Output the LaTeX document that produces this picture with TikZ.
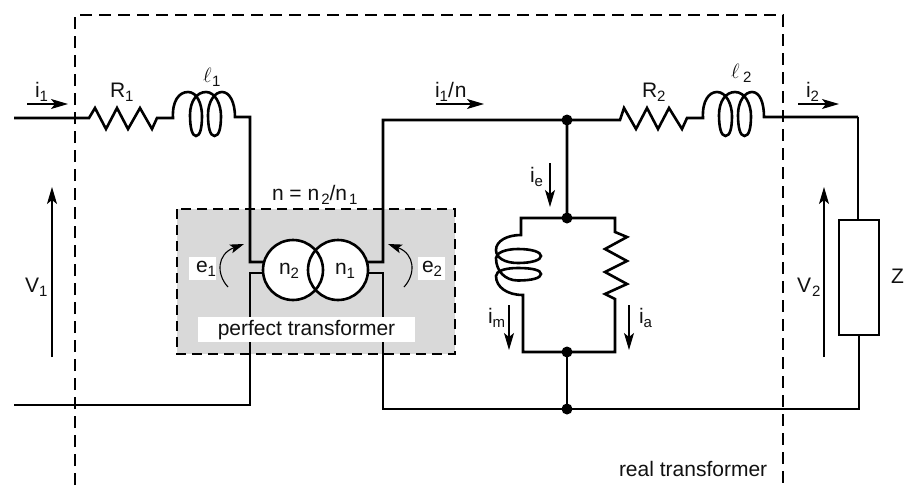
\documentclass[tikz,border=0pt]{standalone}
\usepackage{fontspec}
\setmainfont{Liberation Sans}
\usetikzlibrary{arrows.meta}
\newcommand{\lowsub}[1]{\raisebox{-4.5pt}{\fontsize{15}{16}\selectfont #1}}
\newcommand{\lsym}{\fontsize{21}{24}\selectfont$\ell$}
\definecolor{boxgray}{HTML}{D9D9D9}
\definecolor{inkc}{HTML}{111111}
\tikzset{
  wire/.style={line width=2.6pt,line join=miter,color=black},
  wirelow/.style={line width=2.85pt,line join=miter,color=black},
  realbox/.style={line width=1.2pt,dash pattern=on 12pt off 7pt},
  graybox/.style={line width=1.2pt,dash pattern=on 10pt off 6pt,fill=boxgray},
  curarrow/.style={line width=1.1pt,-{Stealth[length=17pt,width=10pt,inset=4pt]}},
  emfarrow/.style={line width=1.1pt,-{Stealth[length=14pt,width=9pt,inset=3pt]}},
  lbl/.style={anchor=base west,inner sep=0pt,outer sep=0pt,text=inkc,font=\fontsize{21}{24}\selectfont},
  dotj/.style={circle,fill=black,draw=none,minimum size=11pt,inner sep=0pt},
  xfmr/.style={circle,minimum size=60pt,inner sep=0pt,line width=2.6pt},
  whitebox/.style={fill=white,draw=none,inner sep=0pt,outer sep=0pt}
}
\begin{document}
\begin{tikzpicture}[x=1pt,y=-1pt]
\useasboundingbox (0,0) rectangle (908,485);
% frames
\draw[graybox] (177,209) rectangle (455,354);
\draw[realbox] (75,485) -- (75,15) -- (783,15) -- (783,485);
% named points
\coordinate (inA) at (14,118);
\coordinate (inB) at (14,405);
\coordinate (pL1) at (250,262);
\coordinate (pL2) at (250,273);
\coordinate (pR1) at (383,262);
\coordinate (pR2) at (383,273);
\node[dotj] (jTop) at (567,120) {};
\node[dotj] (jMid) at (567,218) {};
\node[dotj] (jLow) at (567,352) {};
\node[dotj] (jBot) at (567,409) {};
% left branch: R1, l1
\draw[wire] (inA) -- (89,118) -- (95,108) -- (106,129) -- (117,108) -- (128,129) -- (140,108) -- (152,129) -- (157,118) -- (173,118)
  .. controls (172,101) and (179,92) .. (188,92)
  .. controls (197,92) and (202,104) .. (202,116)
  .. controls (202,128) and (200,136) .. (196,136)
  .. controls (192,136) and (190,127) .. (190,115)
  .. controls (190,101) and (197,92) .. (206,92)
  .. controls (215,92) and (221,104) .. (221,116)
  .. controls (221,128) and (219,136) .. (214.5,136)
  .. controls (210,136) and (208,127) .. (208,115)
  .. controls (208,101) and (215,92) .. (222,92)
  .. controls (230,92) and (235,103) .. (235,117)
  -- (250,117) -- (pL1) -- (263,262);
\draw[wirelow] (263,273) -- (pL2) -- (250,405) -- (inB);
% right branch: top wire, R2, l2, Z
\draw[wire] (368,262) -- (pR1) -- (383,120) -- (jTop.center) -- (620,120) -- (624,108) -- (636,129) -- (647,108) -- (658,129) -- (669,108) -- (682,129) -- (687,118) -- (703,118)
  .. controls (702,101) and (709,92) .. (717,92)
  .. controls (726,92) and (732,104) .. (732,116)
  .. controls (732,128) and (730,136) .. (725.5,136)
  .. controls (721,136) and (719,127) .. (719,115)
  .. controls (719,101) and (726,92) .. (735,92)
  .. controls (745,92) and (751,104) .. (751,116)
  .. controls (751,128) and (749,136) .. (744.5,136)
  .. controls (740,136) and (738,127) .. (738,115)
  .. controls (738,101) and (745,92) .. (752,92)
  .. controls (760,92) and (764,103) .. (764,117)
  -- (858,117) coordinate (zTop);
\node[draw,wirelow,fill=white,minimum width=40pt,minimum height=115pt,inner sep=0pt] (zbox) at (859,277.5) {};
\draw[wirelow] (zTop) -- (zbox.north -| zTop);
\draw[wirelow] (zbox.south -| 859,0) -- (859,409) -- (jBot.center) -- (383,409) -- (pR2) -- (368,273);
% shunt branch
\draw[wire] (jTop.center) -- (jMid.center) -- (615,218) -- (615,232) -- (627,237) -- (605,249) -- (627,261) -- (605,272) -- (627,284) -- (605,294) -- (615,299) -- (615,352) -- (jLow.center) -- (523,352) -- (523,295)
  .. controls (507,295) and (496,287) .. (496,276)
  .. controls (496,271) and (505,268) .. (518,268)
  .. controls (532,268) and (541,270) .. (541,274)
  .. controls (541,278) and (532,280.5) .. (518,280.5)
  .. controls (505,280.5) and (496,271) .. (496,258)
  .. controls (496,253) and (505,249) .. (518,249)
  .. controls (532,249) and (541,252) .. (541,256)
  .. controls (541,260) and (532,263) .. (518,263)
  .. controls (505,263) and (496,258) .. (496,250)
  .. controls (496,241) and (507,235) .. (521,235)
  -- (521,218) -- (jMid.center);
\draw[wirelow] (jLow.center) -- (jBot.center);
% white label patches
\node[whitebox,minimum width=217pt,minimum height=25pt] (ptbox) at (306.5,329.5) {};
\node[whitebox,minimum width=27pt,minimum height=23pt] (e1box) at (202.5,268.5) {};
\node[whitebox,minimum width=27pt,minimum height=23pt] (e2box) at (431.5,268.5) {};
% ideal transformer
\node[xfmr,fill=white] (cL) at (293,270) {};
\node[xfmr,fill=white] (cR) at (338,270) {};
\node[xfmr,draw] (cLo) at (cL) {};
\node[xfmr,draw] (cRo) at (cR) {};
% current and voltage arrows
\coordinate (a1s) at (27,104); \coordinate (a1e) at (68,104);
\coordinate (a2s) at (436,104); \coordinate (a2e) at (484,104);
\coordinate (a3s) at (798,104); \coordinate (a3e) at (839,104);
\coordinate (a4s) at (550,163); \coordinate (a4e) at (550,207);
\coordinate (a5s) at (509,305); \coordinate (a5e) at (509,350);
\coordinate (a6s) at (629,305); \coordinate (a6e) at (629,350);
\coordinate (a7s) at (52,357); \coordinate (a7e) at (52,187);
\coordinate (a8s) at (824,357); \coordinate (a8e) at (824,187);
\coordinate (e1s) at (228,287); \coordinate (e1e) at (244,244);
\coordinate (e2s) at (404,287); \coordinate (e2e) at (388,244);
\foreach \p/\q in {a1s/a1e,a2s/a2e,a3s/a3e,a4s/a4e,a5s/a5e,a6s/a6e,a7s/a7e,a8s/a8e}
  \draw[curarrow] (\p) -- (\q);
\draw[emfarrow] (e1s) .. controls (216,274) and (217,254) .. (e1e);
\draw[emfarrow] (e2s) .. controls (416,274) and (415,254) .. (e2e);
% labels
\node[lbl] (ti1) at (35,97) {i\lowsub{1}};
\node[lbl] (tR1) at (110,97) {R\lowsub{1}};
\node[lbl] (tl1) at (203,82) {\lsym\hspace{0.5pt}\lowsub{1}};
\node[lbl] (ti1n) at (435,97) {i\lowsub{1}/\hspace{1pt}n};
\node[lbl] (tR2) at (642,97) {R\lowsub{2}};
\node[lbl] (tl2) at (731,78) {\lsym\hspace{3.5pt}\lowsub{2}};
\node[lbl] (ti2) at (806,97) {i\lowsub{2}};
\node[lbl] (tn) at (272,200) {n = n\hspace{2pt}\lowsub{2}/n\hspace{2pt}\lowsub{1}};
\node[lbl] (te1) at (196,272) {e\lowsub{1}};
\node[lbl] (te2) at (422,272) {e\lowsub{2}};
\node[lbl] (tn2) at (279,274) {n\lowsub{2}};
\node[lbl] (tn1) at (335,274) {n\lowsub{1}};
\node[lbl,anchor=base] (tpt) at (306.5,335) {perfect transformer};
\node[lbl] (tie) at (530,182) {i\lowsub{e}};
\node[lbl] (tim) at (488,323) {i\lowsub{m}};
\node[lbl] (tia) at (639,323) {i\lowsub{a}};
\node[lbl] (tV1) at (25,292) {V\lowsub{1}};
\node[lbl] (tV2) at (797,292) {V\hspace{1pt}\lowsub{2}};
\node[lbl] (tZ) at (891,283) {Z};
\node[lbl] (trt) at (619,476) {real transformer};
\end{tikzpicture}
\end{document}
